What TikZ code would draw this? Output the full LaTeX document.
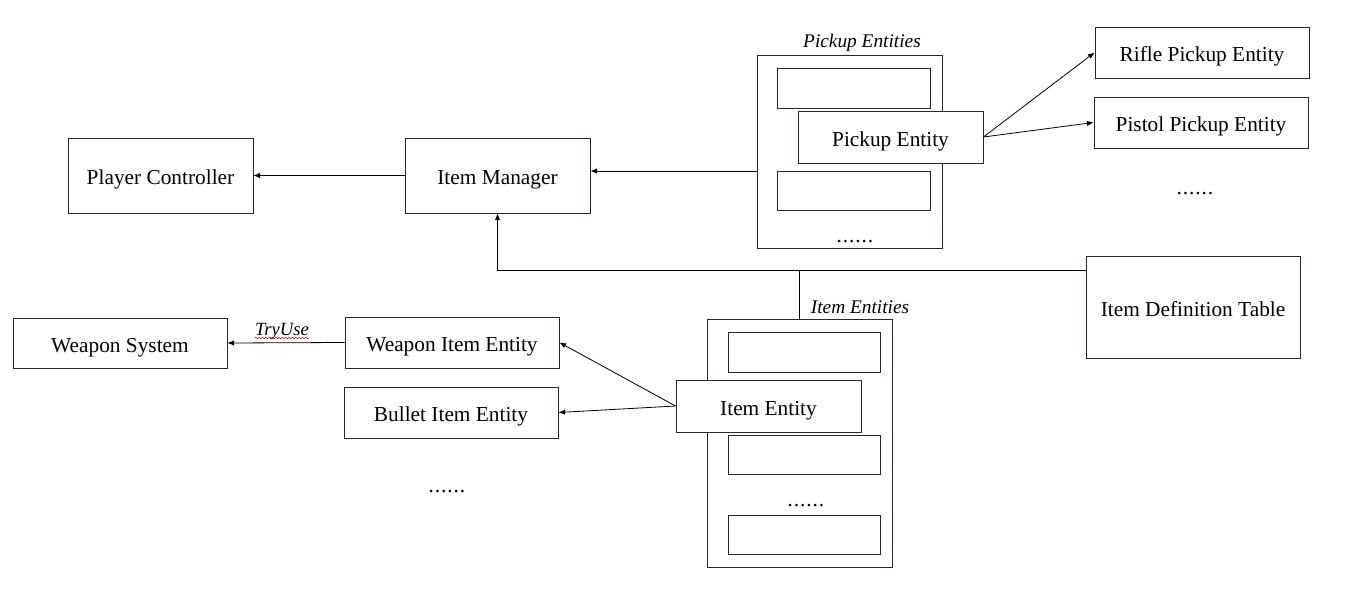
\documentclass[tikz,border=0pt]{standalone}
\usepackage{fontspec}
\setmainfont{Liberation Serif}
\usetikzlibrary{arrows.meta,decorations.pathmorphing}
\definecolor{boxc}{HTML}{1E2A3A}
\newcommand\sixdots{.\kern0.7pt.\kern0.7pt.\kern0.7pt.\kern0.7pt.\kern0.7pt.}
\tikzset{
  box/.style={draw=boxc, line width=0.65pt, fill=white, inner sep=0pt,
    font=\fontsize{16}{19}\selectfont, align=center, text height=14pt, text depth=0pt},
  lab/.style={font=\fontsize{14.5}{17}\selectfont\itshape, inner sep=0pt},
  dotlab/.style={font=\fontsize{16}{19}\selectfont, inner sep=0pt, anchor=base},
  arr/.style={draw=black, line width=0.6pt, -{Latex[length=5pt,width=4pt]}},
  ln/.style={draw=black, line width=0.6pt},
}
\begin{document}
\begin{tikzpicture}[x=0.75pt,y=-0.75pt]
\useasboundingbox (0,0) rectangle (1346,604);
% top row
\node[box, minimum width=138.75pt, minimum height=56.25pt] (pc) at (160.5,175.5) {Player Controller};
\node[box, minimum width=138.75pt, minimum height=56.25pt] (im) at (497.5,175.5) {Item Manager};
% pickup entities container
\node[box, minimum width=138.75pt, minimum height=144.75pt] (pickOuter) at (849.5,151.5) {};
\node[lab] (pickLab) at (862,43) {Pickup Entities};
\node[box, minimum width=114.75pt, minimum height=30pt] (pin1) at (853.5,88) {};
\node[box, minimum width=114.75pt, minimum height=29.25pt] (pin2) at (853.5,190.5) {};
\node[box, minimum width=138.75pt, minimum height=39pt] (pickEnt) at (890.5,137) {Pickup Entity};
\node[dotlab] (pdots) at (855,242) {\sixdots};
% pickup kinds
\node[box, minimum width=160.5pt, minimum height=38.25pt] (rifle) at (1202,52.5) {Rifle Pickup Entity};
\node[box, minimum width=160.5pt, minimum height=38.25pt] (pistol) at (1201,122.5) {Pistol Pickup Entity};
\node[dotlab] (rdots) at (1195,194) {\sixdots};
% item definition table
\node[box, minimum width=160.5pt, minimum height=76.5pt] (idt) at (1193,307) {Item Definition Table};
% item entities container
\node[box, minimum width=138.75pt, minimum height=186pt] (itemOuter) at (799.5,443) {};
\node[lab] (itemLab) at (860,307) {Item Entities};
\node[box, minimum width=114pt, minimum height=30pt] (iin1) at (804,352) {};
\node[box, minimum width=114pt, minimum height=29.25pt] (iin2) at (804,454.5) {};
\node[box, minimum width=114pt, minimum height=29.25pt] (iin3) at (804,534.5) {};
\node[dotlab] (idots) at (806,506) {\sixdots};
\node[box, minimum width=138.75pt, minimum height=39pt] (itemEnt) at (768.5,406) {Item Entity};
% item kinds
\node[box, minimum width=160.5pt, minimum height=38.25pt] (weapon) at (452,342.5) {Weapon Item Entity};
\node[box, minimum width=160.5pt, minimum height=38.25pt] (bullet) at (451,412.5) {Bullet Item Entity};
\node[dotlab] (ldots) at (447,492) {\sixdots};
\node[box, minimum width=160.5pt, minimum height=37.5pt] (wsys) at (120,343) {Weapon System};
% connectors
\draw[arr] (im.west) -- (pc.east);
\draw[arr] ([yshift=-14.6pt]pickOuter.west) -- ([yshift=3.4pt]im.east);
\draw[arr] ([yshift=27.75pt]idt.west) -| (im.south);
\draw[ln] (itemOuter.north) -- ++(0,-49);
\draw[arr] (pickEnt.east) -- (rifle.west);
\draw[arr] (pickEnt.east) -- (pistol.west);
\draw[arr] (itemEnt.west) -- (weapon.east);
\draw[arr] (itemEnt.west) -- (bullet.east);
\draw[arr] (weapon.west) -- (wsys.east);
\node[lab, font=\fontsize{14}{17}\selectfont\itshape] (tu) at (282,331) {TryUse};
\draw[red!80!black, line width=0.4pt, decorate, decoration={snake, amplitude=0.5pt, segment length=2.5pt}]
  ([yshift=-2.2pt]tu.base west) -- ([yshift=-2.2pt]tu.base east);
\end{tikzpicture}
\end{document}
